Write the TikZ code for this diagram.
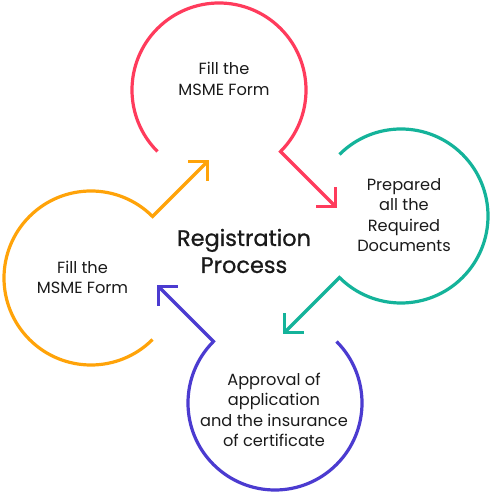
\documentclass[tikz,border=0pt]{standalone}
\usepackage{fontspec}
\setmainfont{Poppins}
\newfontfamily\titlefont{Poppins}[FakeBold=0.8]
\usetikzlibrary{arrows.meta,calc}
\definecolor{cred}{HTML}{FF3B5C}
\definecolor{cteal}{HTML}{14B39A}
\definecolor{cpurple}{HTML}{4B3BD0}
\definecolor{corange}{HTML}{FFA309}
\definecolor{ctext}{HTML}{1A1A1A}
\begin{document}
\begin{tikzpicture}[x=1pt,y=1pt,
  ring/.style={line width=3.2pt, line join=miter, line cap=butt,
    -{Straight Barb[length=13.5pt,width=27pt]}},
  lbl/.style={align=center, text=ctext, inner sep=0pt,
    font=\fontsize{16.2}{20.5}\selectfont},
  title/.style={align=center, text=ctext, inner sep=0pt,
    font=\titlefont\fontsize{22.4}{27}\selectfont}]
\useasboundingbox (0,0) rectangle (494,495);
% circle centres
\coordinate (cR) at (219,405);
\coordinate (cT) at (401,279);
\coordinate (cP) at (275,92);
\coordinate (cO) at (91,217);
% arc start points, corners and arrow tips
\coordinate (sR) at ($(cR)+(225:87)$);
\coordinate (kR) at ($(cR)+(-45:87)$);
\coordinate (tR) at ($(kR)+(-45:80)$);
\coordinate (sT) at ($(cT)+(135:87)$);
\coordinate (kT) at ($(cT)+(225:87)$);
\coordinate (tT) at ($(kT)+(225:80)$);
\coordinate (sP) at ($(cP)+(45:87)$);
\coordinate (kP) at ($(cP)+(135:87)$);
\coordinate (tP) at ($(kP)+(135:80)$);
\coordinate (sO) at ($(cO)+(-45:87)$);
\coordinate (kO) at ($(cO)+(45:87)$);
\coordinate (tO) at ($(kO)+(45:80)$);
% rings with arrows
\draw[ring,cred] (sR) arc[start angle=225,end angle=-45,radius=87] -- (tR);
\draw[ring,cteal] (sT) arc[start angle=135,end angle=-135,radius=87] -- (tT);
\draw[ring,cpurple] (sP) arc[start angle=45,end angle=-225,radius=87] -- (tP);
\draw[ring,corange] (sO) arc[start angle=-45,end angle=-315,radius=87] -- (tO);
% labels
\node[lbl] (lR) at (224,416) {Fill the\\MSME Form};
\node[lbl] (lT) at (404,280) {Prepared\\all the\\Required\\Documents};
\node[lbl] (lP) at (274,85) {Approval of\\application\\and the insurance\\of certificate};
\node[lbl] (lO) at (82.5,217.5) {Fill the\\MSME Form};
\node[title] (lC) at (244,244) {Registration\\Process};
\end{tikzpicture}
\end{document}
